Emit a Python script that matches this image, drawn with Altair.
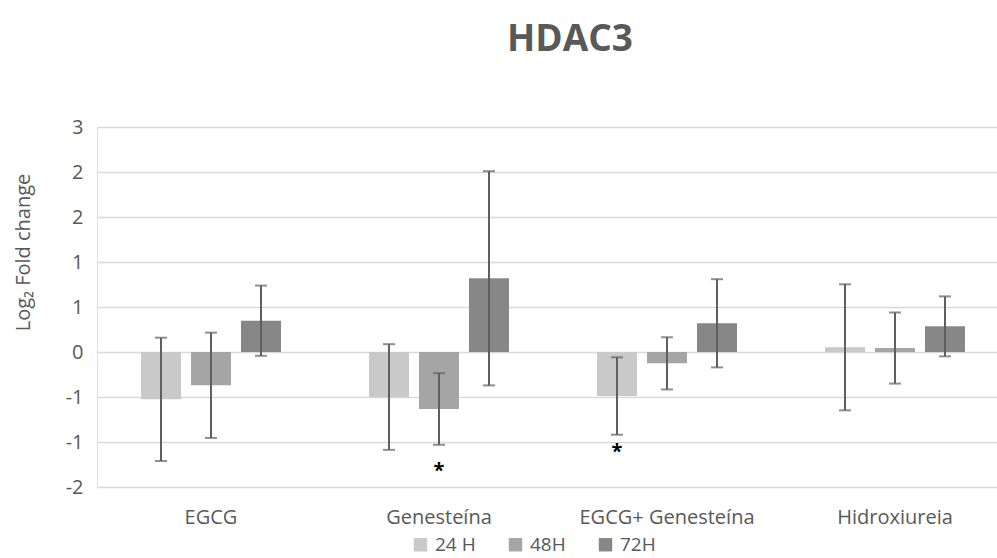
import altair as alt
import pandas as pd

categories = ["EGCG", "Genesteína", "EGCG+ Genesteína", "Hidroxiureia"]
series = ["24 H", "48H", "72H"]
values = {
    "24 H": [-0.526, -0.500, -0.489, 0.052],
    "48H": [-0.370, -0.633, -0.126, 0.044],
    "72H": [0.348, 0.819, 0.319, 0.285],
}
errors = {
    "24 H": [0.685, 0.587, 0.430, 0.700],
    "48H": [0.585, 0.398, 0.290, 0.395],
    "72H": [0.390, 1.190, 0.490, 0.333],
}
sig_category = ["Genesteína", "EGCG+ Genesteína"]
sig_series = ["48H", "24 H"]
sig_y = [-1.32, -1.11]

colors = ["#c9c9c9", "#a5a5a5", "#878787"]
txt = "#595959"
font = "Open Sans"

rows = []
for s in series:
    for i, c in enumerate(categories):
        v = values[s][i]
        e = errors[s][i]
        rows.append({"cat": c, "ser": s, "val": v, "lo": v - e, "hi": v + e})
df = pd.DataFrame(rows)
sig = pd.DataFrame({"cat": sig_category, "ser": sig_series, "y": sig_y, "t": ["*", "*"]})

xenc = alt.X("cat:N", sort=categories,
             scale=alt.Scale(range=[0, 912], paddingInner=0, paddingOuter=0),
             axis=alt.Axis(title=None, labelAngle=0, domain=False, ticks=False,
                           labelFont=font, labelFontSize=20, labelColor=txt,
                           labelPadding=20))
xoff = alt.XOffset("ser:N", sort=series,
                   scale=alt.Scale(paddingInner=0.2, paddingOuter=0.88))

yscale = alt.Scale(domain=[-1.5, 2.5], nice=False)

bars = alt.Chart(df).mark_bar().encode(
    x=xenc,
    xOffset=xoff,
    y=alt.Y("val:Q", scale=yscale,
            axis=alt.Axis(title="Log₂ Fold change",
                          values=[-1.5, -1, -0.5, 0, 0.5, 1, 1.5, 2, 2.5],
                          labelExpr="datum.value >= 0 ? '' + round(datum.value) : '-' + round(-datum.value)",
                          domain=False, ticks=False, grid=True,
                          gridColor="#d9d9d9", gridWidth=1.5,
                          labelFont=font, labelFontSize=20, labelColor=txt,
                          labelPadding=14,
                          titleFont=font, titleFontSize=20, titleColor=txt,
                          titleFontWeight="normal", titleAngle=-90,
                          titleX=-74, titleY=125, titleAlign="center",
                          titleBaseline="middle")),
    color=alt.Color("ser:N", sort=series,
                    scale=alt.Scale(domain=series, range=colors),
                    legend=alt.Legend(title=None, orient="none", direction="horizontal",
                                      legendX=314, legendY=408,
                                      symbolType="square", symbolSize=180,
                                      symbolStrokeWidth=0, symbolOpacity=1,
                                      labelFont=font, labelFontSize=19,
                                      labelColor=txt, labelOffset=5,
                                      columnPadding=30, padding=0)),
)

rules = alt.Chart(df).mark_rule(color="#5f5f5f", strokeWidth=2).encode(
    x=alt.X("cat:N", sort=categories), xOffset=alt.XOffset("ser:N", sort=series),
    y=alt.Y("lo:Q"), y2="hi:Q")

caps_hi = alt.Chart(df).mark_tick(color="#5f5f5f", size=12, thickness=2).encode(
    x=alt.X("cat:N", sort=categories), xOffset=alt.XOffset("ser:N", sort=series),
    y=alt.Y("hi:Q"))
caps_lo = alt.Chart(df).mark_tick(color="#5f5f5f", size=12, thickness=2).encode(
    x=alt.X("cat:N", sort=categories), xOffset=alt.XOffset("ser:N", sort=series),
    y=alt.Y("lo:Q"))

stars = alt.Chart(sig).mark_text(fontSize=20, fontWeight="bold", color="#000000",
                                 font=font, baseline="middle").encode(
    x=alt.X("cat:N", sort=categories), xOffset=alt.XOffset("ser:N", sort=series),
    y=alt.Y("y:Q"), text="t:N")

chart = alt.layer(bars, rules, caps_hi, caps_lo, stars).resolve_scale(
    x="shared", y="shared"
).properties(
    width=900, height=360,
    autosize=alt.AutoSizeParams(type="none"),
    padding={"left": 97, "top": 127, "right": 0, "bottom": 71},
    title=alt.Title("HDAC3", font=font, fontSize=37, fontWeight="bold", color=txt,
                    anchor="middle", dx=23, offset=58),
).configure_view(stroke=None).configure(background="white")

chart.save("out.html", embed_options={"renderer": "svg", "actions": False})
